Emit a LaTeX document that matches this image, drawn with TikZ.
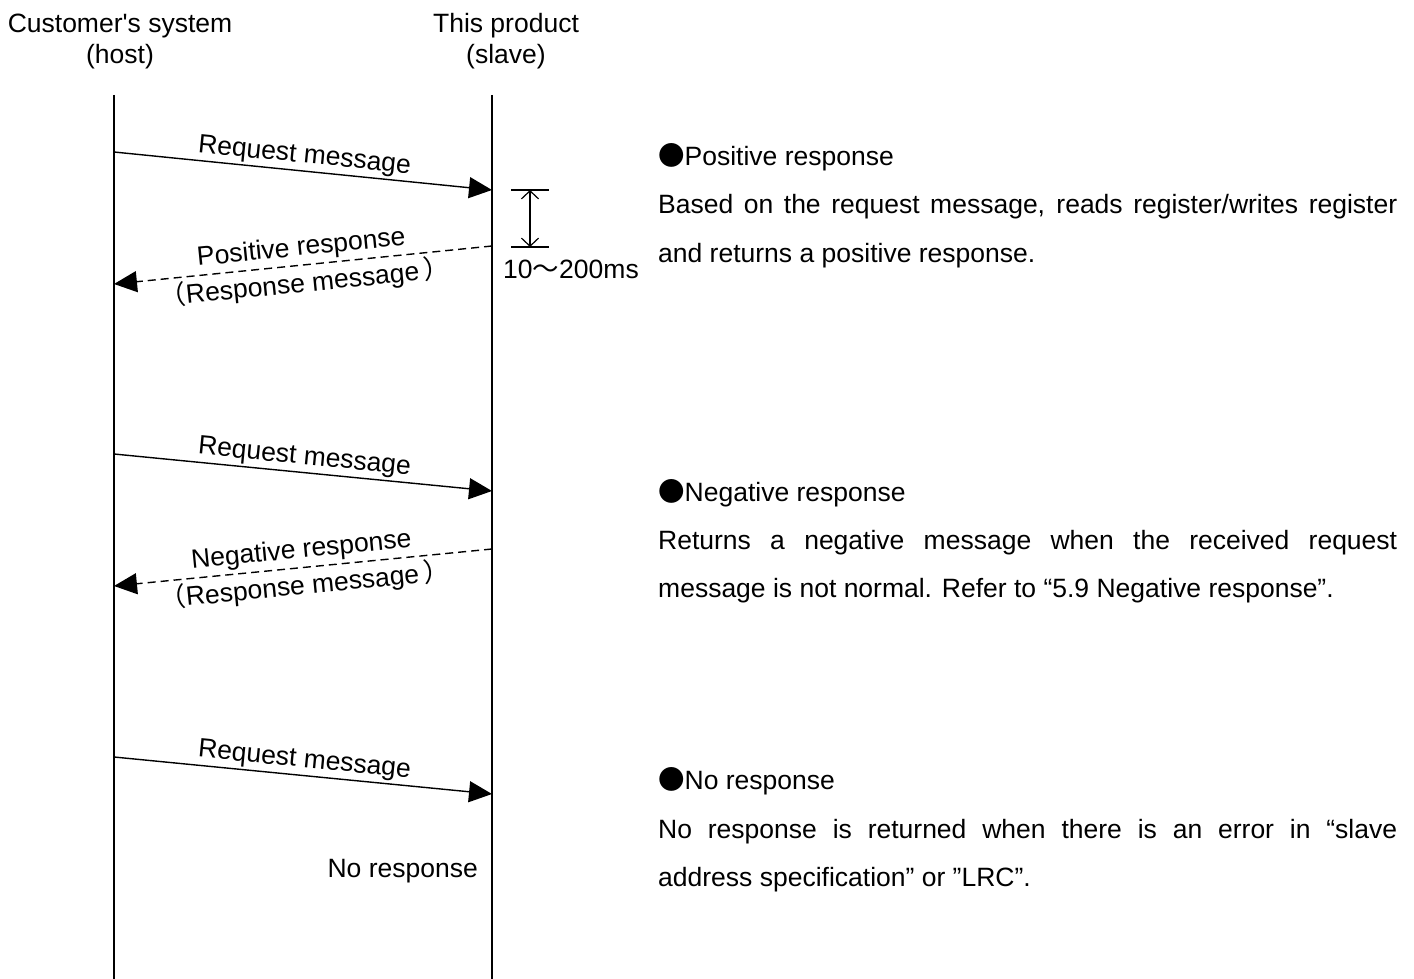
\documentclass[tikz,border=0pt]{standalone}
\usepackage{fontspec}
\setmainfont{Liberation Sans}
\newfontfamily\cjk{Noto Sans CJK SC}
\usetikzlibrary{arrows.meta}
\begin{document}
\begin{tikzpicture}[x=1pt,y=-1pt,
  every node/.style={font=\fontsize{26.5}{31}\selectfont, inner sep=0pt},
  life/.style={line width=1.6pt},
  msg/.style={line width=1.4pt, -{Triangle[length=23pt,width=21pt]}},
  resp/.style={msg, dash pattern=on 8pt off 5pt},
  lbl/.style={sloped, inner sep=2pt},
  rlbl/.style={sloped, inner sep=3.5pt},
  dimline/.style={line width=1.2pt},
  dimarrow/.style={line width=1.2pt, {Straight Barb[length=8pt,width=17pt]}-{Straight Barb[length=8pt,width=17pt]}},
  txt/.style={anchor=base west},
  ]
\useasboundingbox (0,0) rectangle (1414,979);
% headers
\node[anchor=base] (hosta) at (120,33) {Customer\textquotesingle s system};
\node[anchor=base] (hostb) at (120,64) {(host)};
\node[anchor=base] (slva) at (506,33) {This product};
\node[anchor=base] (slvb) at (506,64) {(slave)};
% lifelines
\coordinate (h0) at (114,95); \coordinate (h1) at (114,979);
\coordinate (s0) at (492,95); \coordinate (s1) at (492,979);
\draw[life] (h0) -- (h1);
\draw[life] (s0) -- (s1);
% request 1 / positive response
\coordinate (r1a) at (114,152); \coordinate (r1b) at (492,190);
\draw[msg] (r1a) -- node[lbl, above] (r1l) {Request message} (r1b);
\coordinate (p1a) at (492,246); \coordinate (p1b) at (114,284);
\draw[resp] (p1a) -- node[rlbl, above] (p1u) {Positive response}
                     node[rlbl, below] (p1d) {{\cjk （}Response message\,{\cjk ）}} (p1b);
% timing dimension
\coordinate (t0a) at (511,190); \coordinate (t0b) at (549,190);
\coordinate (t1a) at (511,247); \coordinate (t1b) at (549,247);
\coordinate (d0) at (530,190); \coordinate (d1) at (530,247);
\draw[dimline] (t0a) -- (t0b);
\draw[dimline] (t1a) -- (t1b);
\draw[dimarrow] (d0) -- (d1);
\node[anchor=base] (dlbl) at (571,278) {10{\cjk ～}200ms};
% request 2 / negative response
\coordinate (r2a) at (114,454); \coordinate (r2b) at (492,491);
\draw[msg] (r2a) -- node[lbl, above] (r2l) {Request message} (r2b);
\coordinate (n1a) at (492,549); \coordinate (n1b) at (114,586);
\draw[resp] (n1a) -- node[rlbl, above] (n1u) {Negative response}
                     node[rlbl, below] (n1d) {{\cjk （}Response message\,{\cjk ）}} (n1b);
% request 3 / no response
\coordinate (r3a) at (114,757); \coordinate (r3b) at (492,794);
\draw[msg] (r3a) -- node[lbl, above] (r3l) {Request message} (r3b);
\node[anchor=base east] (nores) at (478,877) {No response};
% right-hand descriptions
\node[txt] (pt) at (658,166) {{\cjk ●}Positive response};
\node[txt] (pt1) at (658,213) {\makebox[739pt][s]{Based on the request message, reads register/writes register}};
\node[txt] (pt2) at (658,262) {and returns a positive response.};
\node[txt] (nt) at (658,501) {{\cjk ●}Negative response};
\node[txt] (nt1) at (658,549) {\makebox[739pt][s]{Returns a negative message when the received request}};
\node[txt] (nt2) at (658,597) {message is not normal. Refer to “5.9 Negative response”.};
\node[txt] (ot) at (658,789) {{\cjk ●}No response};
\node[txt] (ot1) at (658,838) {\makebox[739pt][s]{No response is returned when there is an error in “slave}};
\node[txt] (ot2) at (658,886) {address specification” or ”LRC”.};
\end{tikzpicture}
\end{document}
